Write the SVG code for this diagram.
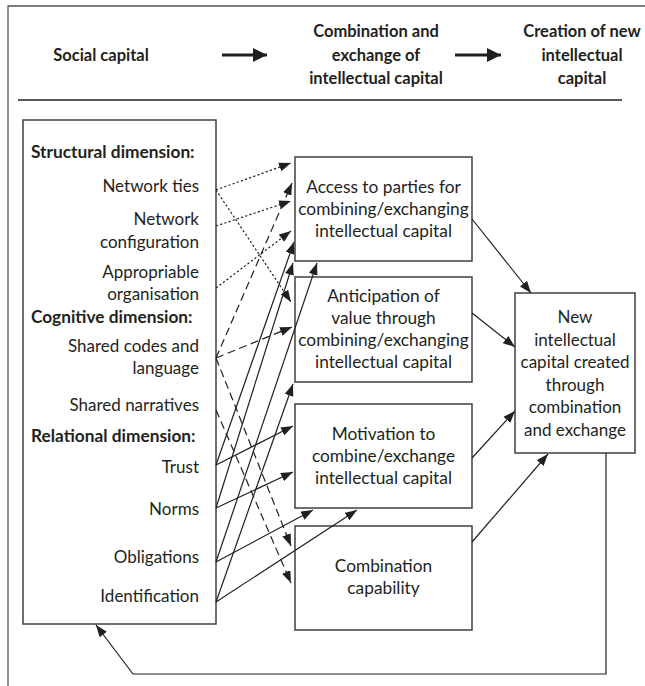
<svg xmlns="http://www.w3.org/2000/svg" width="645" height="686" viewBox="0 0 645 686">
<style>
text{font-family:Lato,"Liberation Sans",sans-serif;fill:#231f20;font-size:17px}
.b{font-weight:bold;font-size:17.3px}
.hd{font-weight:bold;font-size:16.5px;text-anchor:middle}
.r{text-anchor:end}
.m{text-anchor:middle;font-size:17.3px}
.e{text-anchor:middle}
.box{fill:#fff;stroke:#404040;stroke-width:1.5}
.frame{fill:none;stroke:#555;stroke-width:1.3}
.c{fill:none;stroke:#231f20;stroke-width:1.2;marker-end:url(#ah)}
.dot{stroke-dasharray:2.2 2.2}
.dash{stroke-dasharray:8 4.5}
</style>
<defs>
<marker id="ah" viewBox="0 0 12 9" refX="12" refY="4.5" markerWidth="12" markerHeight="9" markerUnits="userSpaceOnUse" orient="auto"><path d="M0,0 L12,4.5 L0,9 z" fill="#231f20"/></marker>
<marker id="big" viewBox="0 0 14 14" refX="14" refY="7" markerWidth="14" markerHeight="14" markerUnits="userSpaceOnUse" orient="auto"><path d="M0,0 L14,7 L0,14 z" fill="#231f20"/></marker>
</defs>
<g id="frame">
<path class="frame" d="M8,686 V6 H645"/>
<line x1="18" y1="100" x2="622" y2="100" stroke="#231f20" stroke-width="1.3"/>
</g>
<g id="header">
<text class="hd" x="101" y="61">Social capital</text>
<text class="hd" x="376" y="37">Combination and</text>
<text class="hd" x="376" y="61">exchange of</text>
<text class="hd" x="376" y="84">intellectual capital</text>
<text class="hd" x="582" y="37">Creation of new</text>
<text class="hd" x="582" y="61">intellectual</text>
<text class="hd" x="582" y="84">capital</text>
<line x1="222" y1="55" x2="267" y2="55" stroke="#231f20" stroke-width="2.8" marker-end="url(#big)"/>
<line x1="455" y1="55" x2="501" y2="55" stroke="#231f20" stroke-width="2.8" marker-end="url(#big)"/>
</g>
<g id="social-capital">
<rect class="box" x="23" y="120" width="193" height="504"/>
<text class="b" x="31" y="158">Structural dimension:</text>
<text class="r" x="199" y="192">Network ties</text>
<text class="r" x="199" y="225">Network</text>
<text class="r" x="199" y="248">configuration</text>
<text class="r" x="199" y="278">Appropriable</text>
<text class="r" x="199" y="300">organisation</text>
<text class="b" x="31" y="323">Cognitive dimension:</text>
<text class="r" x="199" y="352">Shared codes and</text>
<text class="r" x="199" y="374">language</text>
<text class="r" x="199" y="411">Shared narratives</text>
<text class="b" x="31" y="442">Relational dimension:</text>
<text class="r" x="199" y="473">Trust</text>
<text class="r" x="199" y="515">Norms</text>
<text class="r" x="199" y="563">Obligations</text>
<text class="r" x="199" y="602">Identification</text>
</g>
<g id="access">
<rect class="box" x="295" y="157" width="177" height="104"/>
<text class="m" x="383.5" y="193">Access to parties for</text>
<text class="m" x="383.5" y="215">combining/exchanging</text>
<text class="m" x="383.5" y="237">intellectual capital</text>
</g>
<g id="anticipation">
<rect class="box" x="295" y="277" width="177" height="105"/>
<text class="m" x="383.5" y="302">Anticipation of</text>
<text class="m" x="383.5" y="324">value through</text>
<text class="m" x="383.5" y="346">combining/exchanging</text>
<text class="m" x="383.5" y="368">intellectual capital</text>
</g>
<g id="motivation">
<rect class="box" x="295" y="404" width="177" height="104"/>
<text class="m" x="383.5" y="440">Motivation to</text>
<text class="m" x="383.5" y="462">combine/exchange</text>
<text class="m" x="383.5" y="484">intellectual capital</text>
</g>
<g id="capability">
<rect class="box" x="295" y="526" width="177" height="104"/>
<text class="m" x="383.5" y="572">Combination</text>
<text class="m" x="383.5" y="594">capability</text>
</g>
<g id="new-ic">
<rect class="box" x="515" y="293" width="120" height="160"/>
<text class="e" x="575" y="323">New</text>
<text class="e" x="575" y="345.5">intellectual</text>
<text class="e" x="575" y="368">capital created</text>
<text class="e" x="575" y="390.5">through</text>
<text class="e" x="575" y="413">combination</text>
<text class="e" x="575" y="435.5">and exchange</text>
</g>
<g id="connectors">
<path class="c dot" d="M216,190 L291,163"/>
<path class="c dot" d="M216,190 L291,302"/>
<path class="c dot" d="M216,226 L291,201"/>
<path class="c dot" d="M216,288 L291,231"/>
<path class="c dash" d="M216,358 L292,183"/>
<path class="c dash" d="M216,358 L292,327"/>
<path class="c dash" d="M216,358 L291,546"/>
<path class="c dash" d="M216,410 L291,583"/>
<path class="c" d="M216,465 L294,242"/>
<path class="c" d="M216,465 L293,426"/>
<path class="c" d="M216,508 L293,263"/>
<path class="c" d="M216,508 L293,472"/>
<path class="c" d="M216,562 L317,263"/>
<path class="c" d="M216,562 L313,510"/>
<path class="c" d="M216,602 L293,384"/>
<path class="c" d="M216,602 L357,510"/>
<path class="c" d="M472,219 L531,293"/>
<path class="c" d="M472,313 L515,347"/>
<path class="c" d="M472,458 L515,411"/>
<path class="c" d="M472,542 L548,454"/>
<path class="c" d="M606,453 V674 H133 L96,625"/>
</g>
</svg>
